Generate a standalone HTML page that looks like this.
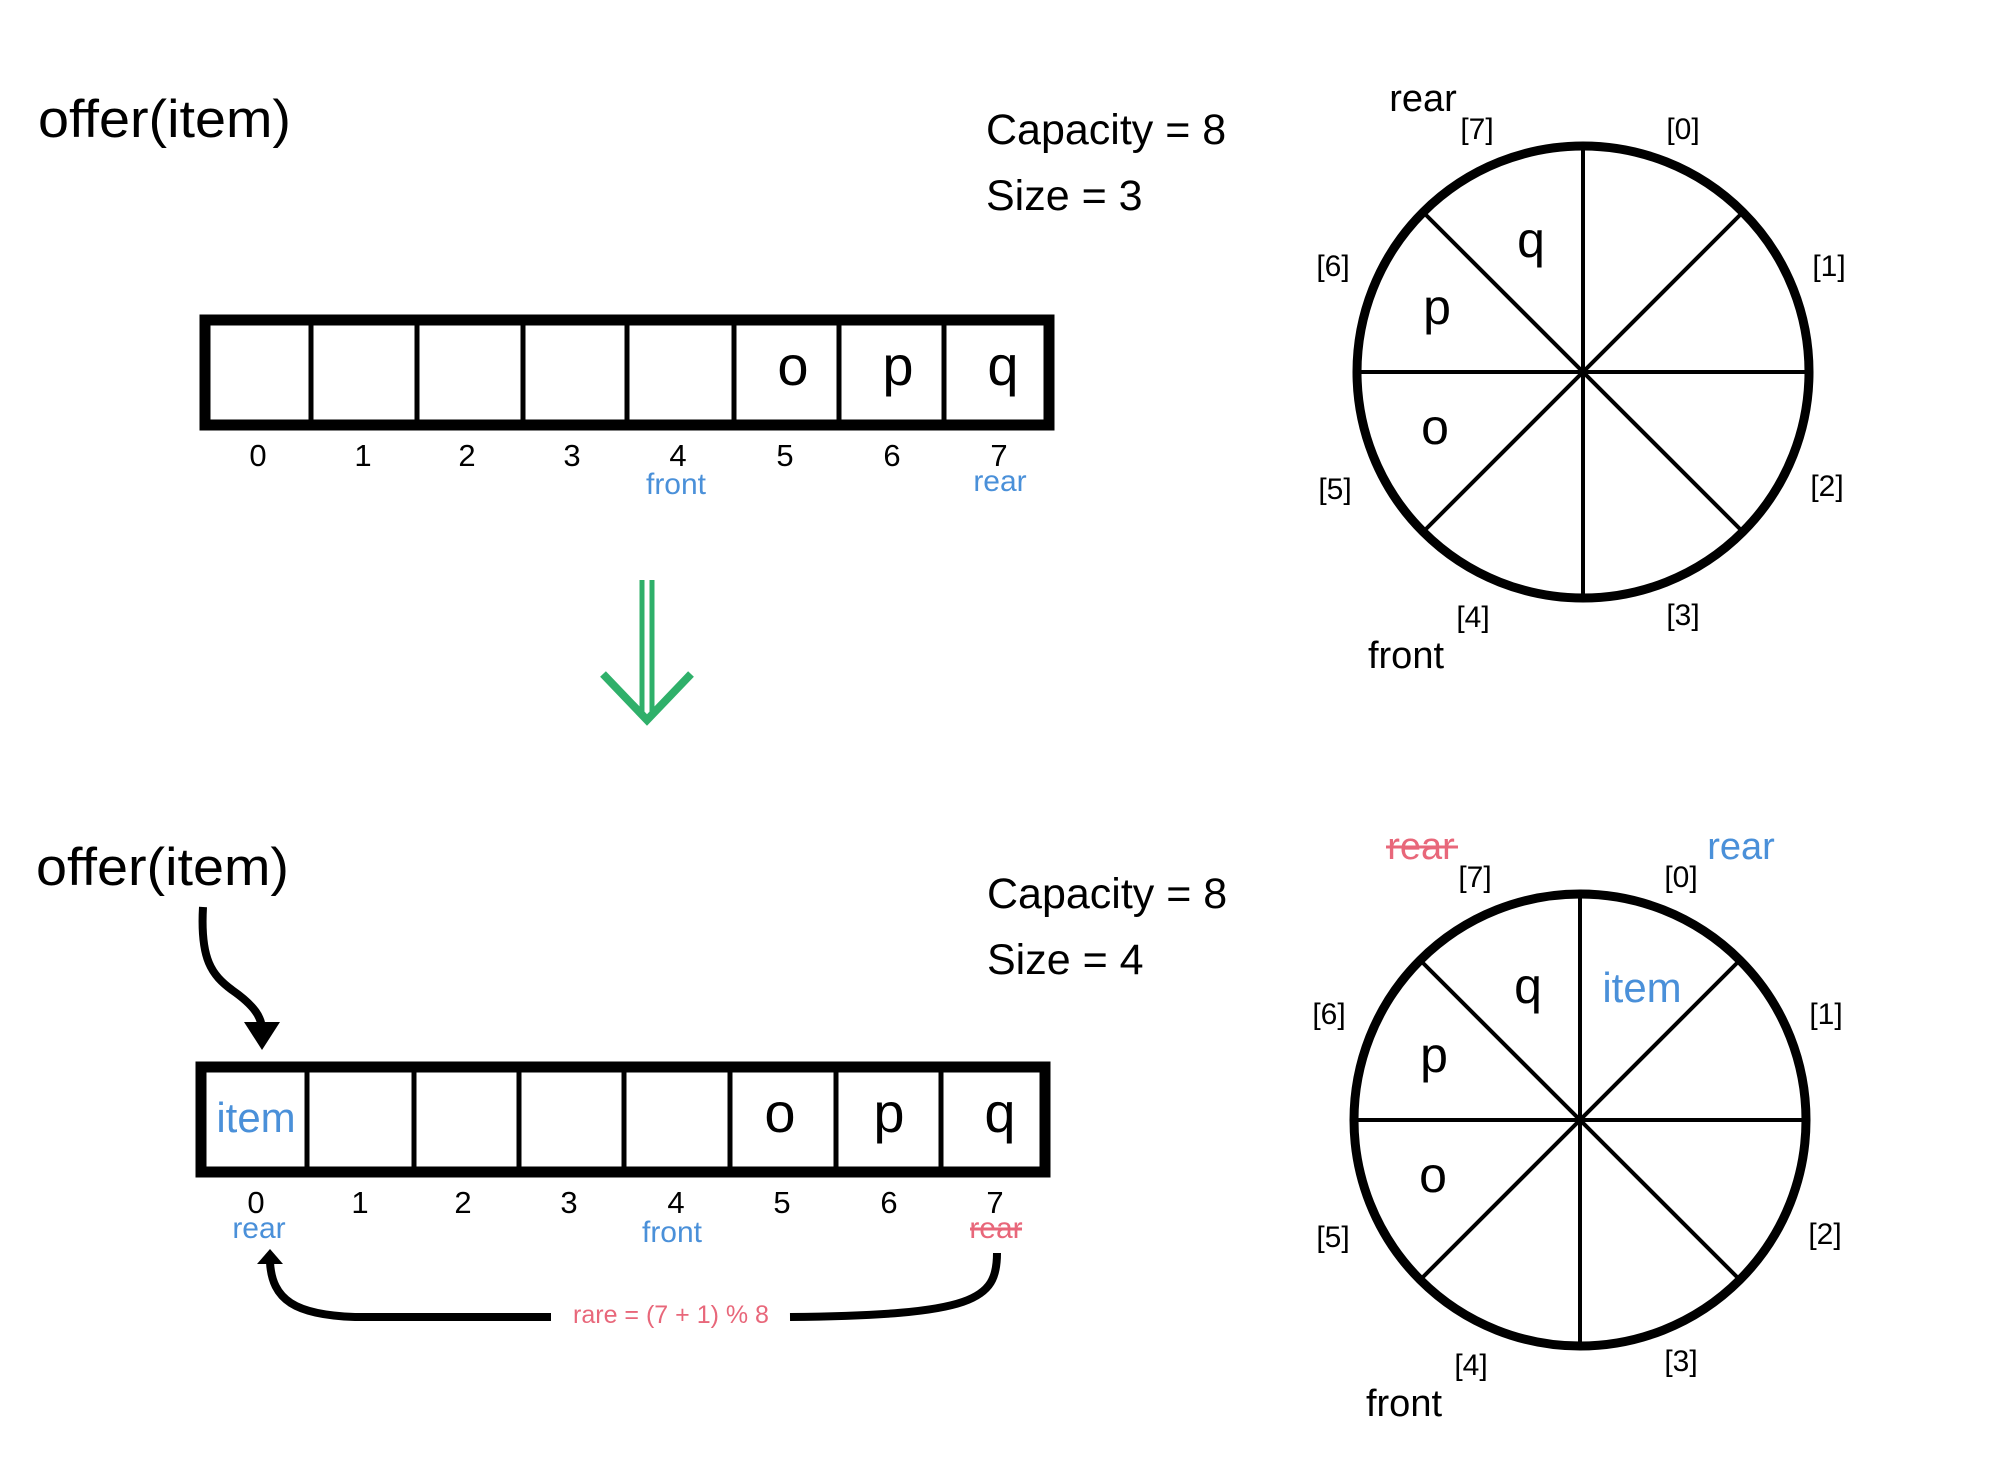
<!DOCTYPE html>
<html><head><meta charset="utf-8"><style>
html,body{margin:0;padding:0;background:#fff;}
svg{display:block;font-family:"Liberation Sans",sans-serif;}
</style></head><body>
<svg width="2000" height="1482" viewBox="0 0 2000 1482" xmlns="http://www.w3.org/2000/svg">
<rect width="2000" height="1482" fill="#fff"/>

<!-- TOP -->
<text x="38" y="137" font-size="53" textLength="253" lengthAdjust="spacingAndGlyphs">offer(item)</text>
<text x="986" y="144" font-size="43">Capacity = 8</text>
<text x="986" y="210" font-size="43">Size = 3</text>

<g stroke="#000" fill="none">
<rect x="205" y="320" width="844" height="105" stroke-width="11"/>
<g stroke-width="5">
<line x1="311" y1="320" x2="311" y2="425"/><line x1="417" y1="320" x2="417" y2="425"/>
<line x1="523" y1="320" x2="523" y2="425"/><line x1="627" y1="320" x2="627" y2="425"/>
<line x1="734" y1="320" x2="734" y2="425"/><line x1="839" y1="320" x2="839" y2="425"/>
<line x1="944" y1="320" x2="944" y2="425"/>
</g></g>
<g font-size="56" text-anchor="middle"><text x="793" y="385">o</text><text x="898" y="385">p</text><text x="1003" y="385">q</text></g>
<g font-size="31" text-anchor="middle">
<text x="258" y="466">0</text><text x="363" y="466">1</text><text x="467" y="466">2</text><text x="572" y="466">3</text>
<text x="678" y="466">4</text><text x="785" y="466">5</text><text x="892" y="466">6</text><text x="999" y="466">7</text>
</g>
<text x="676" y="494" font-size="30" fill="#4a90d9" text-anchor="middle">front</text>
<text x="1000" y="491" font-size="30" fill="#4a90d9" text-anchor="middle">rear</text>

<!-- green arrow -->
<g stroke="#2fb06a" stroke-width="5" fill="none">
<line x1="642" y1="580" x2="642" y2="715"/><line x1="652" y1="580" x2="652" y2="715"/>
<polyline points="603,674 647,720 691,674" stroke-width="8"/>
</g>

<!-- top circle -->
<g stroke="#000" fill="none">
<circle cx="1583" cy="372" r="226" stroke-width="9"/>
<g stroke-width="4">
<line x1="1583" y1="146" x2="1583" y2="598"/><line x1="1357" y1="372" x2="1809" y2="372"/>
<line x1="1423" y1="212" x2="1743" y2="532"/><line x1="1743" y1="212" x2="1423" y2="532"/>
</g></g>
<g font-size="30" text-anchor="middle">
<text x="1477" y="139">[7]</text><text x="1683" y="139">[0]</text><text x="1829" y="276">[1]</text><text x="1333" y="276">[6]</text>
<text x="1335" y="499">[5]</text><text x="1827" y="496">[2]</text><text x="1473" y="627">[4]</text><text x="1683" y="625">[3]</text>
</g>
<text x="1423" y="111" font-size="38" text-anchor="middle">rear</text>
<text x="1406" y="668" font-size="38" text-anchor="middle">front</text>
<g font-size="50" text-anchor="middle"><text x="1531" y="257">q</text><text x="1437" y="324">p</text><text x="1435" y="444">o</text></g>

<!-- BOTTOM -->
<text x="36" y="885" font-size="53" textLength="253" lengthAdjust="spacingAndGlyphs">offer(item)</text>
<text x="987" y="908" font-size="43">Capacity = 8</text>
<text x="987" y="974" font-size="43">Size = 4</text>

<path d="M203,907 C200,960 212,975 232,990 C255,1006 262,1018 262,1030" stroke="#000" stroke-width="8" fill="none"/>
<polygon points="244,1022 280,1022 262,1050" fill="#000"/>

<g stroke="#000" fill="none">
<rect x="201" y="1067" width="844" height="105" stroke-width="11"/>
<g stroke-width="5">
<line x1="307" y1="1067" x2="307" y2="1172"/><line x1="414" y1="1067" x2="414" y2="1172"/>
<line x1="519" y1="1067" x2="519" y2="1172"/><line x1="624" y1="1067" x2="624" y2="1172"/>
<line x1="730" y1="1067" x2="730" y2="1172"/><line x1="836" y1="1067" x2="836" y2="1172"/>
<line x1="941" y1="1067" x2="941" y2="1172"/>
</g></g>
<text x="256" y="1132" font-size="42" fill="#4a90d9" text-anchor="middle">item</text>
<g font-size="56" text-anchor="middle"><text x="780" y="1132">o</text><text x="889" y="1132">p</text><text x="1000" y="1132">q</text></g>
<g font-size="31" text-anchor="middle">
<text x="256" y="1213">0</text><text x="360" y="1213">1</text><text x="463" y="1213">2</text><text x="569" y="1213">3</text>
<text x="676" y="1213">4</text><text x="782" y="1213">5</text><text x="889" y="1213">6</text><text x="995" y="1213">7</text>
</g>
<text x="259" y="1238" font-size="30" fill="#4a90d9" text-anchor="middle">rear</text>
<text x="672" y="1242" font-size="30" fill="#4a90d9" text-anchor="middle">front</text>
<text x="996" y="1238" font-size="30" fill="#e8677a" text-anchor="middle">rear</text>
<line x1="970" y1="1229" x2="1022" y2="1229" stroke="#e8677a" stroke-width="3"/>

<path d="M997,1253 C997,1300 975,1315 790,1317" stroke="#000" stroke-width="8" fill="none"/>
<path d="M551,1317 L355,1317 C295,1315 272,1300 270,1262" stroke="#000" stroke-width="8" fill="none"/>
<polygon points="257,1264 283,1264 270,1249" fill="#000"/>
<text x="671" y="1323" font-size="25" fill="#e8677a" text-anchor="middle">rare = (7 + 1) % 8</text>

<!-- bottom circle -->
<g stroke="#000" fill="none">
<circle cx="1580" cy="1120" r="226" stroke-width="9"/>
<g stroke-width="4">
<line x1="1580" y1="894" x2="1580" y2="1346"/><line x1="1354" y1="1120" x2="1806" y2="1120"/>
<line x1="1420" y1="960" x2="1740" y2="1280"/><line x1="1740" y1="960" x2="1420" y2="1280"/>
</g></g>
<g font-size="30" text-anchor="middle">
<text x="1475" y="887">[7]</text><text x="1681" y="887">[0]</text><text x="1826" y="1024">[1]</text><text x="1329" y="1024">[6]</text>
<text x="1333" y="1247">[5]</text><text x="1825" y="1244">[2]</text><text x="1471" y="1375">[4]</text><text x="1681" y="1371">[3]</text>
</g>
<text x="1421" y="859" font-size="38" fill="#e8677a" text-anchor="middle">rear</text>
<line x1="1386" y1="847" x2="1458" y2="847" stroke="#e8677a" stroke-width="3"/>
<text x="1741" y="859" font-size="38" fill="#4a90d9" text-anchor="middle">rear</text>
<text x="1404" y="1416" font-size="38" text-anchor="middle">front</text>
<g font-size="50" text-anchor="middle"><text x="1528" y="1003">q</text><text x="1434" y="1072">p</text><text x="1433" y="1192">o</text></g>
<text x="1642" y="1002" font-size="42" fill="#4a90d9" text-anchor="middle">item</text>
</svg>
</body></html>
